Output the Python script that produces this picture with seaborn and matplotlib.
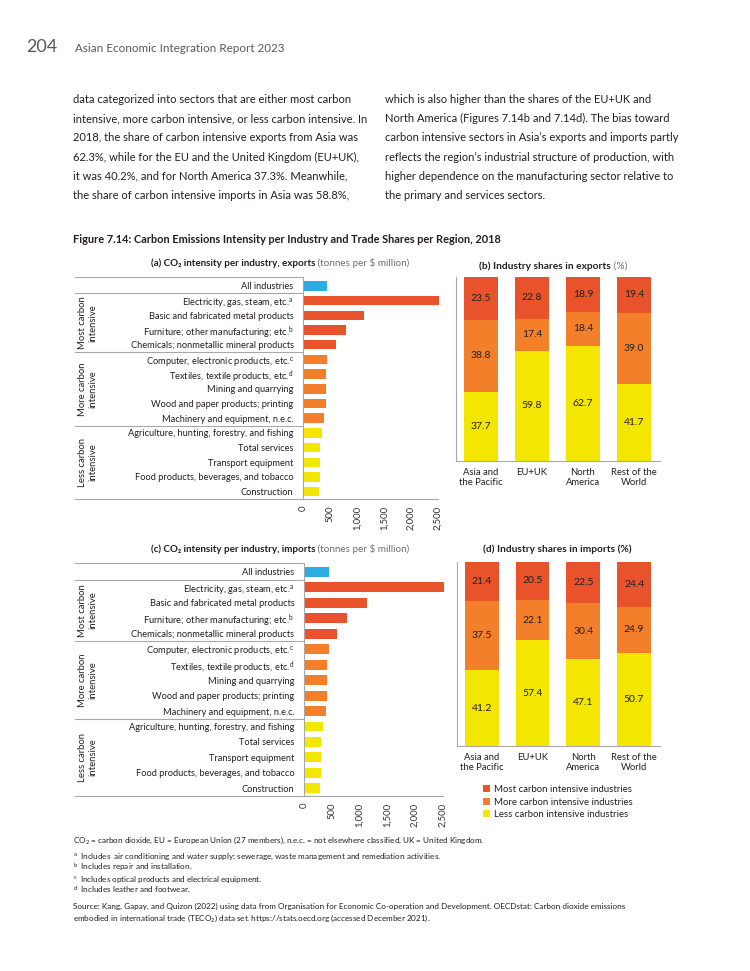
import numpy as np
import pandas as pd
import matplotlib
matplotlib.use("Agg")
import matplotlib.pyplot as plt
import matplotlib.transforms as mtransforms
from matplotlib.patches import Patch
import seaborn as sns

# ---------------- data ----------------
industries = [
    "All industries",
    "Electricity, gas, steam, etc.$^{\\rm a}$",
    "Basic and fabricated metal products",
    "Furniture; other manufacturing; etc.$^{\\rm b}$",
    "Chemicals; nonmetallic mineral products",
    "Computer, electronic products, etc.$^{\\rm c}$",
    "Textiles, textile products, etc.$^{\\rm d}$",
    "Mining and quarrying",
    "Wood and paper products; printing",
    "Machinery and equipment, n.e.c.",
    "Agriculture, hunting, forestry, and fishing",
    "Total services",
    "Transport equipment",
    "Food products, beverages, and tobacco",
    "Construction",
]
industry_group = ["All"] + ["Most"] * 4 + ["More"] * 5 + ["Less"] * 5
exports_intensity = [450, 2530, 1135, 790, 600, 445, 428, 425, 415, 390, 340, 310, 308, 303, 285]
imports_intensity = [445, 2530, 1130, 780, 595, 445, 420, 415, 410, 390, 337, 306, 305, 300, 283]
x_ticks = [0, 500, 1000, 1500, 2000, 2500]
x_ticklabels = ["0", "500", "1,000", "1,500", "2,000", "2,500"]

regions = ["Asia and\nthe Pacific", "EU+UK", "North\nAmerica", "Rest of the\nWorld"]
exp_most = [23.5, 22.8, 18.9, 19.4]
exp_more = [38.8, 17.4, 18.4, 39.0]
exp_less = [37.7, 59.8, 62.7, 41.7]
imp_most = [21.4, 20.5, 22.5, 24.4]
imp_more = [37.5, 22.1, 30.4, 24.9]
imp_less = [41.2, 57.4, 47.1, 50.7]
legend_labels = ["Most carbon intensive industries", "More carbon intensive industries",
                 "Less carbon intensive industries"]

# ---------------- style ----------------
C_MOST = "#E9532B"
C_MORE = "#F37F2A"
C_LESS = "#F3E600"
C_ALL = "#2BACE2"
GRID = "#A8A8A8"
TXT = "#231F20"
GRAY = "#6D6E71"
group_colors = {"All": C_ALL, "Most": C_MOST, "More": C_MORE, "Less": C_LESS}

sns.set_theme(style="white")
plt.rcParams["font.family"] = ["Lato", "DejaVu Sans"]
plt.rcParams["mathtext.fontset"] = "custom"
plt.rcParams["mathtext.rm"] = "Lato"
plt.rcParams["mathtext.it"] = "Lato:italic"
plt.rcParams["mathtext.bf"] = "Lato:bold"

W, H = 750, 971
fig = plt.figure(figsize=(W / 100, H / 100), dpi=100)
fig.patch.set_facecolor("white")


def fx(x):
    return x / W


def fy(y):
    return 1 - y / H


def add_ax(x0, x1, ytop, ybot):
    return fig.add_axes([fx(x0), fy(ybot), (x1 - x0) / W, (ybot - ytop) / H])


renderer = fig.canvas.get_renderer()


def two_part(xc, y, bold, regular, size, reg_color=GRAY, reg_bold=False):
    t1 = fig.text(0, fy(y), bold, weight="bold", size=size, color=TXT, va="baseline", ha="left")
    t2 = fig.text(0, fy(y), regular, weight="bold" if reg_bold else "normal", size=size,
                  color=reg_color, va="baseline", ha="left")
    w1 = t1.get_window_extent(renderer).width
    w2 = t2.get_window_extent(renderer).width if regular else 0
    x0 = xc - (w1 + w2) / 2
    t1.set_x(fx(x0))
    t2.set_x(fx(x0 + w1))


# ---------------- page text ----------------
fig.text(fx(26), fy(52), "204", size=13, color="#58595B", va="baseline")
fig.text(fx(75), fy(52), "Asian Economic Integration Report 2023", size=8.4, color="#58595B", va="baseline")

left_col = [
    "data categorized into sectors that are either most carbon",
    "intensive, more carbon intensive, or less carbon intensive. In",
    "2018, the share of carbon intensive exports from Asia was",
    "62.3%, while for the EU and the United Kingdom (EU+UK),",
    "it was 40.2%, and for North America 37.3%. Meanwhile,",
    "the share of carbon intensive imports in Asia was 58.8%,",
]
right_col = [
    "which is also higher than the shares of the EU+UK and",
    "North America (Figures 7.14b and 7.14d). The bias toward",
    "carbon intensive sectors in Asia\u2019s exports and imports partly",
    "reflects the region\u2019s industrial structure of production, with",
    "higher dependence on the manufacturing sector relative to",
    "the primary and services sectors.",
]
for i, (l, r) in enumerate(zip(left_col, right_col)):
    yy = 103 + i * 19.2
    fig.text(fx(73), fy(yy), l, size=8.0, color=TXT, va="baseline")
    fig.text(fx(385), fy(yy), r, size=8.0, color=TXT, va="baseline")

fig.text(fx(73), fy(243), "Figure 7.14: Carbon Emissions Intensity per Industry and Trade Shares per Region, 2018",
         size=7.9, weight="bold", color=TXT, va="baseline")


# ---------------- intensity panels ----------------
def intensity_panel(x0, x1, ytop, ybot, values, row_top):
    ax = add_ax(x0, x1, ytop, ybot)
    df = pd.DataFrame({"industry": industries, "value": values, "group": industry_group})
    sns.barplot(data=df, x="value", y="industry", hue="group", palette=group_colors,
                order=industries, dodge=False, legend=False, width=0.64, ax=ax,
                orient="h", saturation=1)
    for p in ax.patches:
        p.set_clip_on(False)
        p.set_edgecolor("none")
    ax.set_xlim(0, 2500)
    ax.set_ylim(14.5, row_top)
    ax.set_xlabel("")
    ax.set_ylabel("")
    ax.set_xticks(x_ticks)
    ax.set_xticklabels(x_ticklabels, rotation=90, size=6.8, color="#333333")
    ax.tick_params(axis="x", direction="inout", length=4, width=0.7, color=GRID, pad=3)
    ax.tick_params(axis="y", length=0, pad=7, labelsize=6.7, labelcolor=TXT)
    for s in ["top", "right"]:
        ax.spines[s].set_visible(False)
    for s in ["left", "bottom"]:
        ax.spines[s].set_color(GRID)
        ax.spines[s].set_linewidth(0.8)
    ax.set_facecolor("none")
    # table lines extending into label area
    trans = mtransforms.blended_transform_factory(ax.transAxes, ax.transData)
    xl = (75 - x0) / (x1 - x0)
    for yv in [row_top, 0.5, 4.5, 9.5, 14.5]:
        ax.plot([xl, 0], [yv, yv], transform=trans, color=GRID, lw=0.8, clip_on=False)
    # group labels
    for (a, b), lab in zip([(0.5, 4.5), (4.5, 9.5), (9.5, 14.5)],
                           ["Most carbon\nintensive", "More carbon\nintensive", "Less carbon\nintensive"]):
        ax.text(xl + 13 / (x1 - x0), (a + b) / 2, lab, transform=trans, rotation=90,
                ha="center", va="center", size=6.8, color=TXT, linespacing=1.15,
                multialignment="center")
    return ax


ax_a = intensity_panel(303.3, 437.7, 277, 499, exports_intensity, -0.61)
ax_c = intensity_panel(304.0, 442.7, 563, 796, imports_intensity, -0.58)

two_part(280, 266, "(a) CO\u2082 intensity per industry, exports", " (tonnes per \\$ million)", 7.1)
two_part(280, 552, "(c) CO\u2082 intensity per industry, imports", " (tonnes per \\$ million)", 7.1)


# ---------------- share panels ----------------
def share_panel(x0, x1, ytop, ybot, less, more, most):
    ax = add_ax(x0, x1, ytop, ybot)
    less = np.array(less)
    more = np.array(more)
    most = np.array(most)
    mid = less + more
    total = mid + most
    for vals, col in [(total, C_MOST), (mid, C_MORE), (less, C_LESS)]:
        sns.barplot(x=regions, y=vals, color=col, width=0.665, ax=ax, saturation=1, order=regions)
    for p in ax.patches:
        p.set_edgecolor("none")
    for i in range(len(regions)):
        for yv, v in [(less[i] / 2, less[i]), (less[i] + more[i] / 2, more[i]),
                      (mid[i] + most[i] / 2, most[i])]:
            ax.text(i, yv, f"{v:.1f}", ha="center", va="center", size=7.5, color=TXT)
    ax.set_xlim(-0.49, 3.51)
    ax.set_ylim(0, 100)
    ax.set_yticks([0, 20, 40, 60, 80, 100])
    ax.set_yticklabels([])
    ax.tick_params(axis="y", direction="out", length=3, width=0.7, color=GRID)
    ax.tick_params(axis="x", length=0, pad=5, labelsize=6.8, labelcolor=TXT)
    for s in ["top", "right"]:
        ax.spines[s].set_visible(False)
    for s in ["left", "bottom"]:
        ax.spines[s].set_color(GRID)
        ax.spines[s].set_linewidth(0.8)
    ax.set_xlabel("")
    ax.set_ylabel("")
    return ax


ax_b = share_panel(456, 660, 277, 461, exp_less, exp_more, exp_most)
ax_d = share_panel(457, 660, 562, 746, imp_less, imp_more, imp_most)

two_part(553, 269, "(b) Industry shares in exports", " (%)", 7.3)
two_part(557, 552, "(d) Industry shares in imports (%)", "", 7.3)

handles = [Patch(facecolor=c, edgecolor="none") for c in [C_MOST, C_MORE, C_LESS]]
fig.legend(handles, legend_labels, loc="upper left", bbox_to_anchor=(fx(483), fy(785)),
           frameon=False, fontsize=6.9, handlelength=0.75, handleheight=0.75,
           handletextpad=0.45, labelspacing=0.38, borderpad=0, borderaxespad=0,
           labelcolor=TXT)

# ---------------- notes ----------------
notes = [
    (843, "CO$_2$ = carbon dioxide, EU = European Union (27 members), n.e.c. = not elsewhere classified, UK = United Kingdom."),
    (859, "$^{\\rm a}$  Includes  air conditioning and water supply; sewerage, waste management and remediation activities."),
    (870, "$^{\\rm b}$  Includes repair and installation."),
    (882, "$^{\\rm c}$  Includes optical products and electrical equipment."),
    (893, "$^{\\rm d}$  Includes leather and footwear."),
    (909, "Source: Kang, Gapay, and Quizon (2022) using data from Organisation for Economic Co-operation and Development. OECDstat: Carbon dioxide emissions"),
    (921, "embodied in international trade (TECO$_2$) data set. https://stats.oecd.org (accessed December 2021)."),
]
for yy, t in notes:
    fig.text(fx(73), fy(yy), t, size=5.9, color=TXT, va="baseline")

fig.savefig("out.png", dpi=100, facecolor="white")
